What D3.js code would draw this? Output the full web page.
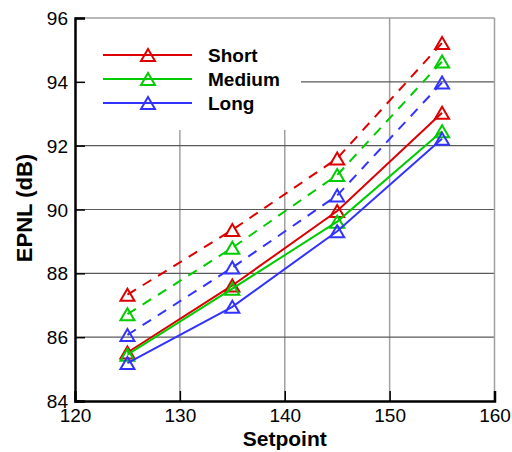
<!DOCTYPE html>
<html>
<head>
<style>
  body { margin: 0; background: #fff; }
  text { font-family: "Liberation Sans", Arial, sans-serif; }
</style>
</head>
<body>
<svg width="512" height="452"></svg>
<script src="https://d3js.org/d3.v7.min.js"></script>
<script>
// data
var setpoints = [125, 135, 145, 155];
var seriesNames = ["Short", "Medium", "Long"];
var seriesColors = ["#dd0000", "#00cc00", "#3333ff"];
var shortSolid = [85.52, 87.62, 89.95, 93.03];
var mediumSolid = [85.45, 87.52, 89.62, 92.45];
var longSolid = [85.19, 86.95, 89.32, 92.22];
var shortDashed = [87.33, 89.36, 91.6, 95.22];
var mediumDashed = [86.72, 88.8, 91.08, 94.64];
var longDashed = [86.07, 88.18, 90.44, 93.98];
var xTicks = [120, 130, 140, 150, 160];
var yTicks = [84, 86, 88, 90, 92, 94, 96];

var svg = d3.select("svg"),
    margin = { top: 18, right: 17.5, bottom: 51, left: 75 },
    width = 512 - margin.left - margin.right,
    height = 452 - margin.top - margin.bottom,
    g = svg.append("g").attr("transform", "translate(" + margin.left + "," + margin.top + ")");

var x = d3.scaleLinear().domain([120, 160]).range([0, width]);
var y = d3.scaleLinear().domain([84, 96]).range([height, 0]);

// grid
g.selectAll(".vgrid").data([130, 140, 150]).enter().append("line")
    .attr("x1", d => x(d)).attr("x2", d => x(d)).attr("y1", 0).attr("y2", height)
    .attr("stroke", "#a0a0a0").attr("stroke-width", 1.5);
g.selectAll(".hgrid").data([86, 88, 90, 92, 94]).enter().append("line")
    .attr("x1", 0).attr("x2", width).attr("y1", d => y(d)).attr("y2", d => y(d))
    .attr("stroke", "#5a5a5a").attr("stroke-width", 1.2);

// legend background hides the grid
g.append("rect").attr("x", 0).attr("y", 0).attr("width", 226).attr("height", 112).attr("fill", "#fff");

// frame (top, right)
g.append("line").attr("x1", 0).attr("x2", width).attr("y1", 0).attr("y2", 0)
    .attr("stroke", "#a0a0a0").attr("stroke-width", 1.5);
g.append("line").attr("x1", width).attr("x2", width).attr("y1", 0).attr("y2", height)
    .attr("stroke", "#a0a0a0").attr("stroke-width", 1.5);

// axes with inward ticks
var xMinor = d3.range(120, 160.1, 2);
var yMinor = d3.range(84, 96.1, 0.5);
var xAxis = g.append("g").attr("transform", "translate(0," + height + ")");
xAxis.call(d3.axisBottom(x).tickValues(xMinor).tickSize(-6).tickFormat(""));
xAxis.call(d3.axisBottom(x).tickValues(xTicks).tickSize(-10).tickPadding(8).tickFormat(d3.format("d")));
var yAxis = g.append("g");
yAxis.call(d3.axisLeft(y).tickValues(yMinor).tickSize(-6).tickFormat(""));
yAxis.call(d3.axisLeft(y).tickValues(yTicks).tickSize(-10).tickPadding(7).tickFormat(d3.format("d")));
g.selectAll(".domain").attr("stroke", "#000").attr("stroke-width", 2.5);
g.selectAll(".tick line").attr("stroke", "#000").attr("stroke-width", 1.5);
g.selectAll(".tick text").attr("font-size", 19).attr("fill", "#000")
    .style("font-family", "'Liberation Sans', Arial, sans-serif");
yAxis.selectAll(".tick text").attr("dy", "0.35em");
xAxis.selectAll(".tick text").attr("dy", "0.71em");

// series
var solids = [shortSolid, mediumSolid, longSolid];
var dashes = [shortDashed, mediumDashed, longDashed];
var line = d3.line().x((d, i) => x(setpoints[i])).y(d => y(d));
var tri = "M0,-6L7,6L-7,6Z";

function drawSeries(values, color, dashed) {
    g.append("path").datum(values).attr("fill", "none").attr("stroke", color)
        .attr("stroke-width", 2).attr("stroke-dasharray", dashed ? "10,8" : null)
        .attr("d", line);
    g.selectAll(null).data(values).enter().append("path")
        .attr("d", tri)
        .attr("transform", (d, i) => "translate(" + x(setpoints[i]) + "," + y(d) + ")")
        .attr("fill", "none").attr("stroke", color).attr("stroke-width", 2);
}
for (var k = 0; k < 3; k++) {
    drawSeries(dashes[k], seriesColors[k], true);
    drawSeries(solids[k], seriesColors[k], false);
}

// legend
seriesNames.forEach(function (name, i) {
    var ly = 37 + i * 24;
    g.append("line").attr("x1", 28).attr("x2", 117).attr("y1", ly).attr("y2", ly)
        .attr("stroke", seriesColors[i]).attr("stroke-width", 2);
    g.append("path").attr("d", tri).attr("transform", "translate(73," + ly + ")")
        .attr("fill", "none").attr("stroke", seriesColors[i]).attr("stroke-width", 2);
    g.append("text").attr("x", 133).attr("y", ly + 7).attr("font-size", 19)
        .attr("font-weight", "bold").text(name);
});

// axis titles
svg.append("text").attr("x", margin.left + width / 2).attr("y", 446)
    .attr("text-anchor", "middle").attr("font-size", 21).attr("font-weight", "bold").text("Setpoint");
svg.append("text").attr("transform", "translate(32,208) rotate(-90)")
    .attr("text-anchor", "middle").attr("font-size", 22).attr("font-weight", "bold").text("EPNL (dB)");
</script>
</body>
</html>
